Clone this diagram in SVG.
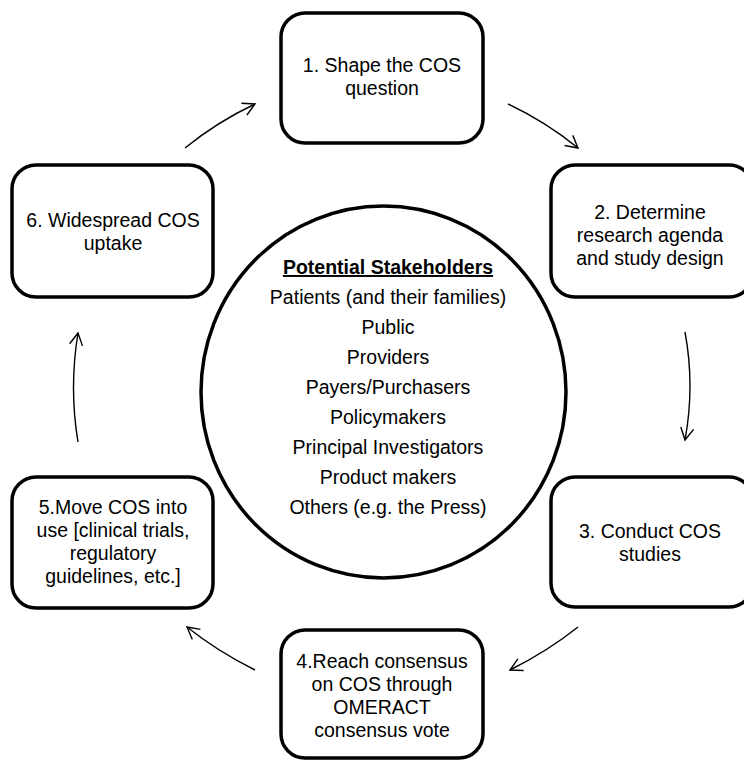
<svg xmlns="http://www.w3.org/2000/svg" width="744" height="760" viewBox="0 0 744 760">
<defs>
<style>
.box{fill:#fff;stroke:#000;stroke-width:3.5}
.hub{fill:#fff;stroke:#000;stroke-width:3.5}
.t{font-family:"Liberation Sans",Arial,sans-serif;font-size:19.5px;fill:#000;text-anchor:middle}
.h{font-weight:bold;text-decoration:underline}
.arr{fill:none;stroke:#000;stroke-width:1.4;marker-end:url(#ah)}
</style>
<marker id="ah" markerUnits="userSpaceOnUse" markerWidth="20" markerHeight="20" refX="0" refY="0" viewBox="-14 -10 16 20" orient="auto">
<path d="M-12,-6.5 L0,0 L-12,6.5" fill="none" stroke="#000" stroke-width="1.4"/>
</marker>
</defs>
<rect width="744" height="760" fill="#fff"/>
<g id="connectors">
<path class="arr" d="M185,148 Q217,122 255,104"/>
<path class="arr" d="M508,104 Q546,122 578,148"/>
<path class="arr" d="M685,332 Q695,386 685,440"/>
<path class="arr" d="M578,627 Q548,651 510,670"/>
<path class="arr" d="M255,670 Q217,651 187,627"/>
<path class="arr" d="M78,442 Q69,388 78,333"/>
</g>
<g id="stakeholders">
<ellipse class="hub" cx="383.5" cy="392" rx="182.5" ry="186"/>
<text class="t h" x="388" y="274">Potential Stakeholders</text>
<text class="t" x="388" y="304">Patients (and their families)</text>
<text class="t" x="388" y="334">Public</text>
<text class="t" x="388" y="364">Providers</text>
<text class="t" x="388" y="394">Payers/Purchasers</text>
<text class="t" x="388" y="424">Policymakers</text>
<text class="t" x="388" y="454">Principal Investigators</text>
<text class="t" x="388" y="484">Product makers</text>
<text class="t" x="388" y="514">Others (e.g. the Press)</text>
</g>
<g id="step1">
<rect class="box" x="281" y="13" width="202" height="130" rx="24"/>
<text class="t" x="382" y="72">1. Shape the COS</text>
<text class="t" x="382" y="95">question</text>
</g>
<g id="step2">
<rect class="box" x="551" y="165" width="202" height="132" rx="24"/>
<text class="t" x="650" y="219">2. Determine</text>
<text class="t" x="650" y="242">research agenda</text>
<text class="t" x="650" y="265">and study design</text>
</g>
<g id="step3">
<rect class="box" x="551" y="477" width="202" height="130" rx="24"/>
<text class="t" x="650" y="538">3. Conduct COS</text>
<text class="t" x="650" y="561">studies</text>
</g>
<g id="step4">
<rect class="box" x="281" y="630" width="202" height="128" rx="24"/>
<text class="t" x="382" y="668">4.Reach consensus</text>
<text class="t" x="382" y="691">on COS through</text>
<text class="t" x="382" y="714">OMERACT</text>
<text class="t" x="382" y="737">consensus vote</text>
</g>
<g id="step5">
<rect class="box" x="12" y="477" width="201" height="131" rx="24"/>
<text class="t" x="113" y="514">5.Move COS into</text>
<text class="t" x="113" y="537">use [clinical trials,</text>
<text class="t" x="113" y="560">regulatory</text>
<text class="t" x="113" y="583">guidelines, etc.]</text>
</g>
<g id="step6">
<rect class="box" x="12" y="165" width="201" height="132" rx="24"/>
<text class="t" x="113" y="227">6. Widespread COS</text>
<text class="t" x="113" y="250">uptake</text>
</g>
</svg>
